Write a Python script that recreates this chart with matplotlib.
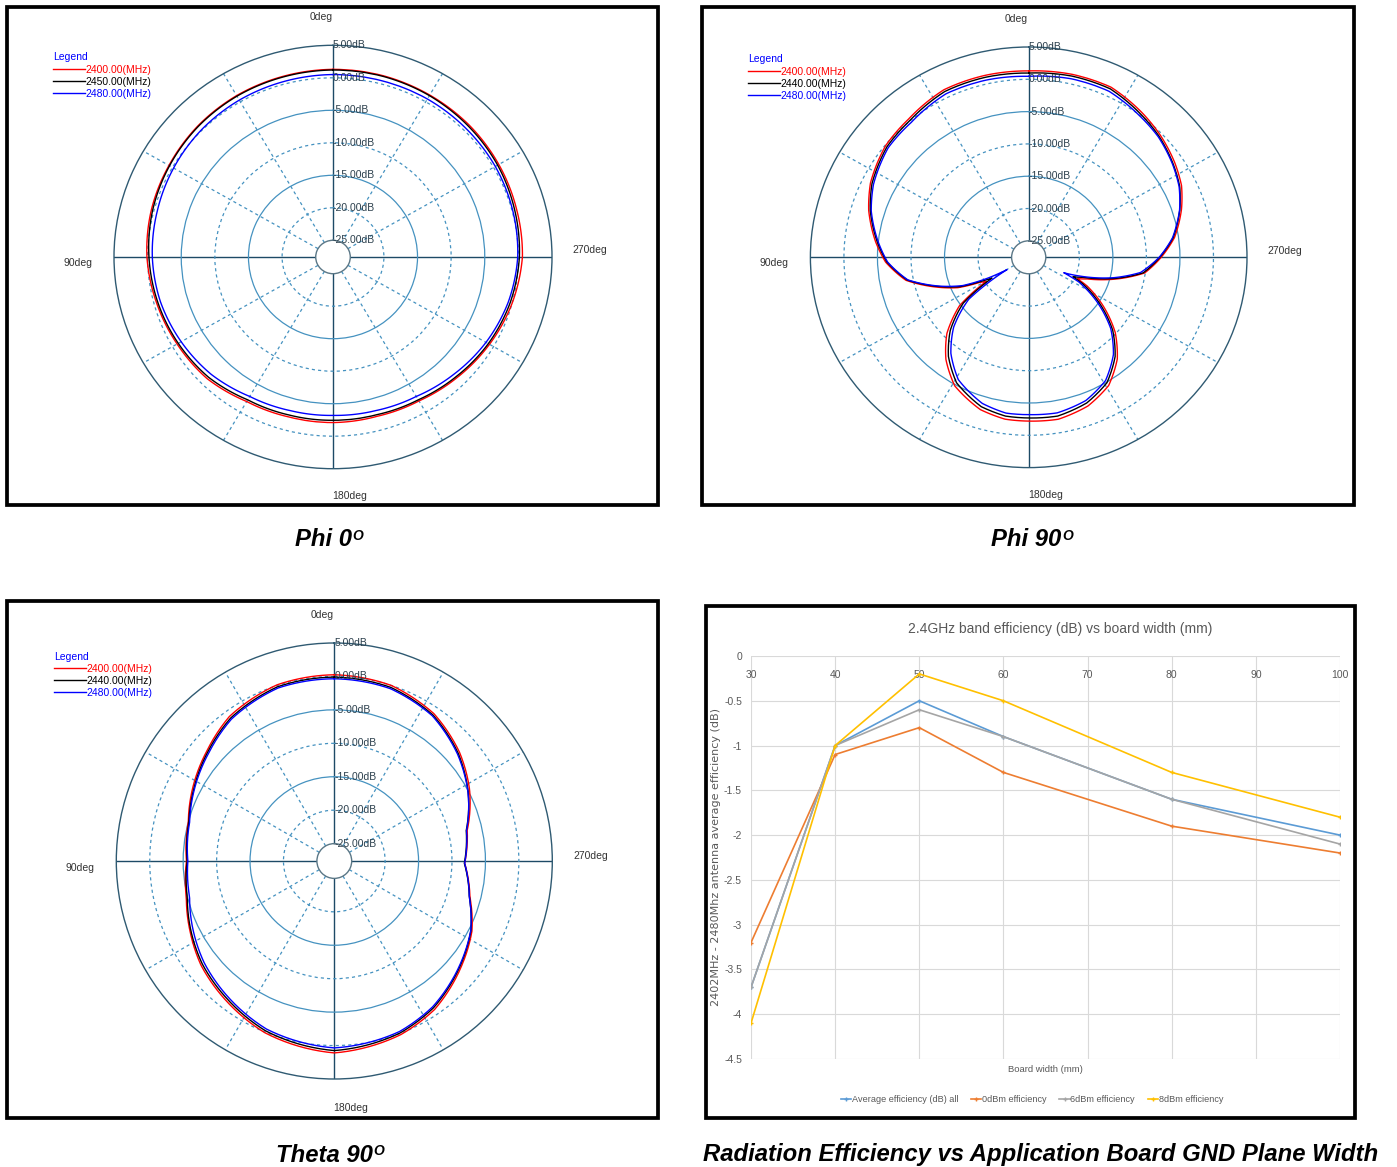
import matplotlib.pyplot as plt
import numpy as np
from matplotlib.patches import Rectangle

W, H = 1397, 1167

# radiation patterns, gain in dB; angle in deg, 0deg at top, counter-clockwise
phi0_ang = [0, 15, 30, 45, 60, 75, 90, 105, 120, 135, 150, 165, 180,
            195, 210, 225, 240, 255, 270, 285, 300, 315, 330, 345, 360]
phi0_2400 = [1.3, 1.2, 1.1, 0.9, 0.6, 0.4, 0.1, -0.4, -0.8, -1.1, -1.9, -2.1, -2.1,
             -2.2, -2.0, -1.4, -0.7, 0.0, 0.6, 0.7, 0.9, 1.1, 1.2, 1.3, 1.3]
phi0_2450 = [1.2, 1.1, 1.0, 0.8, 0.5, 0.2, -0.2, -0.6, -1.0, -1.4, -2.2, -2.4, -2.45,
             -2.45, -2.2, -1.6, -0.9, -0.3, 0.15, 0.4, 0.7, 0.9, 1.1, 1.2, 1.2]
phi0_2480 = [0.5, 0.4, 0.3, 0.1, -0.2, -0.5, -0.7, -1.0, -1.5, -2.0, -2.8, -3.1, -3.2,
             -3.1, -2.8, -2.1, -1.3, -0.6, -0.1, 0.1, 0.3, 0.4, 0.5, 0.5, 0.5]

phi90_ang = [0, 13, 26, 40, 51, 64, 73, 84, 92, 101, 109, 114, 118, 120.5, 126,
             134, 142, 151, 163, 172, 180, 190, 201, 211, 220, 228, 236, 243, 245.5,
             249, 256, 262, 270, 278, 288, 296, 304, 314, 323, 335, 347, 360]
phi90_2400 = [1.3, 1.35, 1.3, 0.35, -0.1, -1.3, -2.6, -4.6, -6.2, -8.9, -13.3, -16.0,
              -19.3, -20.2, -14.8, -10.6, -7.5, -4.8, -2.9, -2.25, -2.2, -2.1, -2.9,
              -4.4, -7.0, -10.2, -14.2, -17.8, -19.6, -18.2, -13.8, -10.1, -7.8, -5.6,
              -3.6, -2.2, -1.3, -0.3, 0.5, 1.5, 1.5, 1.3]
phi90_2440 = [0.97, 1.05, 1.0, 0.05, -0.36, -1.55, -2.85, -4.85, -6.4, -9.1, -13.6, -16.4,
              -19.9, -21.2, -15.5, -11.3, -8.1, -5.35, -3.37, -2.73, -2.68, -2.6, -3.4,
              -4.9, -7.5, -10.7, -14.8, -18.5, -20.3, -18.9, -14.1, -10.3, -8.0, -5.8,
              -3.86, -2.5, -1.6, -0.55, 0.2, 1.22, 1.23, 0.97]
phi90_2480 = [0.46, 0.6, 0.6, -0.3, -0.6, -1.8, -3.0, -5.0, -6.5, -9.2, -13.8, -16.8,
              -20.8, -23.8, -16.5, -12.0, -8.7, -5.9, -3.9, -3.2, -3.2, -3.1, -3.8,
              -5.3, -7.9, -11.1, -15.3, -19.2, -21.8, -19.5, -14.5, -10.7, -8.1, -5.9,
              -3.9, -2.6, -1.7, -0.7, -0.1, 0.8, 0.8, 0.46]

theta90_ang = [0, 18, 36, 49, 63, 75, 90, 104, 116, 128, 142, 158, 180,
               201, 214, 231, 243, 255, 269, 283, 298, 311, 326, 342, 360]
theta90_2400 = [0.25, 0.1, -0.9, -2.4, -3.8, -5.0, -5.5, -4.8, -3.6, -2.3, -1.2, 0.1, 1.1,
                0.2, -0.8, -3.0, -4.5, -6.6, -8.1, -7.2, -4.7, -2.8, -1.0, 0.0, 0.25]
theta90_2440 = [-0.1, -0.2, -1.2, -2.6, -4.0, -5.1, -5.6, -4.95, -3.75, -2.56, -1.5, -0.2, 0.75,
                -0.07, -1.1, -3.2, -4.67, -6.7, -8.15, -7.35, -4.97, -3.05, -1.25, -0.3, -0.1]
theta90_2480 = [-0.35, -0.4, -1.4, -2.8, -4.1, -5.2, -5.7, -5.3, -4.1, -2.9, -1.8, -0.5, 0.35,
                -0.3, -1.3, -3.3, -4.7, -6.7, -8.1, -7.3, -5.0, -3.2, -1.4, -0.5, -0.35]

ring_vals = [0, -5, -10, -15, -20]
ring_labels = [5, 0, -5, -10, -15, -20, -25]

# efficiency vs board width
board_w = [30, 40, 50, 60, 80, 100]
eff_avg = [-3.7, -1.0, -0.5, -0.9, -1.6, -2.0]
eff_0dbm = [-3.2, -1.1, -0.8, -1.3, -1.9, -2.2]
eff_6dbm = [-3.7, -1.0, -0.6, -0.9, -1.6, -2.1]
eff_8dbm = [-4.1, -1.0, -0.2, -0.5, -1.3, -1.8]
eff_yticks = [0, -0.5, -1, -1.5, -2, -2.5, -3, -3.5, -4, -4.5]

fig = plt.figure(figsize=(W / 100, H / 100), dpi=100)
bg = fig.add_axes([0, 0, 1, 1])
bg.set_xlim(0, W)
bg.set_ylim(H, 0)
bg.axis('off')


def px_box(x, y, w, h):
    return [x / W, 1 - (y + h) / H, w / W, h / H]


for x0, y0, x1, y1 in [(7, 7, 658, 505), (702, 7, 1354, 505),
                       (7, 601, 658, 1118), (706, 606, 1355, 1118)]:
    bg.add_patch(Rectangle((x0, y0), x1 - x0, y1 - y0, fill=False, lw=2.7, ec='black'))

PF = 'Liberation Sans'
FS = 7.5


def polar_panel(cx, cy, rx, ry, origin, ang, curves, labels, leg_xy, deg_xy):
    ax = fig.add_axes(px_box(cx - rx, cy - ry, 2 * rx, 2 * ry), projection='polar')
    ax.set_aspect('auto')
    ax.set_theta_zero_location('N')
    ax.set_theta_direction(1)
    ax.set_rorigin(origin)
    ax.set_rlim(-25, 5)
    ax.set_rgrids(ring_vals, labels=[''] * len(ring_vals))
    ax.set_thetagrids(range(0, 360, 30), labels=[''] * 12)
    for gl, v in zip(ax.yaxis.get_gridlines(), ring_vals):
        gl.set_color('#4592c0')
        gl.set_linewidth(0.9)
        gl.set_linestyle((0, (2.5, 2.5)) if v % 10 == 0 else '-')
    for gl, a in zip(ax.xaxis.get_gridlines(), range(0, 360, 30)):
        if a % 90 == 0:
            gl.set_color('#1d4a66')
            gl.set_linewidth(1.0)
            gl.set_linestyle('-')
        else:
            gl.set_color('#4592c0')
            gl.set_linewidth(0.9)
            gl.set_linestyle((0, (2.5, 2.5)))
    ax.spines['polar'].set_color('#2f5a72')
    ax.spines['polar'].set_linewidth(1.0)
    ax.spines['inner'].set_color('#5b7786')
    ax.spines['inner'].set_linewidth(1.0)
    th = np.radians(ang)
    lines = []
    for vals, col in zip(curves, ['#ff0000', '#000000', '#0000ff']):
        ln, = ax.plot(th, vals, color=col, lw=1.0)
        # draw each segment as a curve in polar space
        ln.get_path()._interpolation_steps = 30
        lines.append(ln)
    for v in ring_labels:
        ax.text(0, v, f'{v:.2f}dB', ha='left', va='center', fontsize=FS,
                family=PF, color='#2b3f4c')
    leg = ax.legend(lines, labels, loc='upper left', bbox_to_anchor=leg_xy,
                    bbox_transform=bg.transData, title='Legend', frameon=False,
                    title_fontsize=FS, handlelength=3.1,
                    handletextpad=0.0, labelspacing=0.2, borderpad=0,
                    borderaxespad=0, alignment='left', labelcolor='linecolor',
                    prop={'family': PF, 'size': FS})
    leg.get_title().set_color('#0000ff')
    leg.get_title().set_family(PF)
    for txt, (x, y) in zip(['0deg', '90deg', '180deg', '270deg'], deg_xy):
        bg.text(x, y, txt, ha='center', va='center', fontsize=FS, family=PF, color='#333333')
    return ax


polar_panel(333, 257, 219, 211.7, -27.57, phi0_ang, [phi0_2400, phi0_2450, phi0_2480],
            ['2400.00(MHz)', '2450.00(MHz)', '2480.00(MHz)'], (53, 52.5),
            [(321, 17), (78, 263), (350, 496), (590, 250)])
polar_panel(1028.7, 257.3, 218.3, 210.3, -27.55, phi90_ang, [phi90_2400, phi90_2440, phi90_2480],
            ['2400.00(MHz)', '2440.00(MHz)', '2480.00(MHz)'], (748, 54.5),
            [(1016, 19), (774, 263), (1046, 495), (1285, 251)])
polar_panel(334.3, 861, 218, 218, -27.6, theta90_ang, [theta90_2400, theta90_2440, theta90_2480],
            ['2400.00(MHz)', '2440.00(MHz)', '2480.00(MHz)'], (54, 651.5),
            [(322, 615), (80, 868), (351, 1108), (591, 856)])

# efficiency chart
NF = 'Liberation Sans'
gray = '#595959'
ax4 = fig.add_axes(px_box(751, 656, 589, 403))
for vals, col, lab in [(eff_avg, '#5B9BD5', 'Average efficiency (dB) all'),
                       (eff_0dbm, '#ED7D31', '0dBm efficiency'),
                       (eff_6dbm, '#A5A5A5', '6dBm efficiency'),
                       (eff_8dbm, '#FFC000', '8dBm efficiency')]:
    ax4.plot(board_w, vals, color=col, lw=1.2, marker='+', ms=3.5, mew=1, label=lab)
ax4.set_xlim(30, 100)
ax4.set_ylim(-4.5, 0)
ax4.set_xticks(range(30, 101, 10))
ax4.set_yticks(eff_yticks)
ax4.set_yticklabels([f'{v:g}' for v in eff_yticks])
ax4.grid(color='#d9d9d9', lw=0.8)
ax4.set_axisbelow(True)
for s in ax4.spines.values():
    s.set_visible(False)
ax4.tick_params(axis='x', top=False, bottom=False, labeltop=True, labelbottom=False,
                length=0, pad=-17, labelsize=7.5, labelcolor=gray)
ax4.tick_params(axis='y', length=0, pad=6.5, labelsize=7.5, labelcolor=gray)
for lab in ax4.get_xticklabels() + ax4.get_yticklabels():
    lab.set_family(NF)
ax4.set_xlabel('Board width (mm)', fontsize=6.8, color=gray, family=NF, labelpad=4)
ax4.set_ylabel('2402MHz - 2480Mhz antenna average efficiency (dB)', fontsize=8.0,
               color=gray, family='DejaVu Sans')
ax4.yaxis.set_label_coords((721 - 751) / 589, 0.5)
ax4.legend(loc='center', bbox_to_anchor=(1032, 1100), bbox_transform=bg.transData,
           ncol=4, frameon=False, handlelength=1.1, handletextpad=0.1,
           columnspacing=1.4, prop={'family': NF, 'size': 6.6}, labelcolor=gray)
bg.text(1060, 629, '2.4GHz band efficiency (dB) vs board width (mm)', ha='center',
        va='center', fontsize=10.0, color=gray, family=NF)

# captions
for x, y, s in [(295, 540, 'Phi 0'), (991, 540, 'Phi 90'), (276, 1155, 'Theta 90'),
                (703, 1155, 'Radiation Efficiency vs Application Board GND Plane Width')]:
    t = bg.text(x, y, s, ha='left', va='center', fontsize=17.2, fontweight='bold',
                fontstyle='italic', family=PF)
    if s.endswith('0'):
        bg.annotate('O', xy=(1, 1), xycoords=t, xytext=(0.5, -0.5), textcoords='offset points',
                    ha='left', va='top', fontsize=10, fontweight='bold',
                    fontstyle='italic', family=PF)

fig.savefig('out.png', dpi=100)
